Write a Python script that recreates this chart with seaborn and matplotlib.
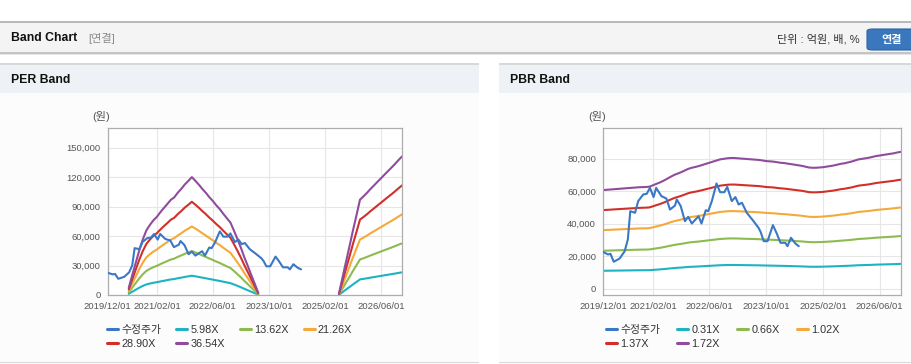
import numpy as np
import pandas as pd
import matplotlib
matplotlib.use("Agg")
import matplotlib.pyplot as plt
from matplotlib.patches import Rectangle, FancyBboxPatch
import seaborn as sns

# --------------------------------------------------
# Data
# --------------------------------------------------

price_dates = [
    "2019-12-01", "2020-01-13", "2020-02-03", "2020-03-02", "2020-04-22",
    "2020-06-04", "2020-07-01", "2020-07-22", "2020-09-01", "2020-09-28",
    "2020-11-10", "2020-12-10", "2021-01-07", "2021-02-07", "2021-03-01",
    "2021-04-15", "2021-05-28", "2021-06-28", "2021-08-10", "2021-08-25",
    "2021-09-28", "2021-11-03", "2021-12-01", "2022-01-01", "2022-02-28",
    "2022-03-25", "2022-05-01", "2022-05-22", "2022-06-22", "2022-08-01",
    "2022-09-01", "2022-10-07", "2022-11-01", "2022-12-10", "2023-01-10",
    "2023-02-07", "2023-03-07", "2023-04-18", "2023-06-15", "2023-07-28",
    "2023-08-15", "2023-09-10", "2023-10-13", "2023-11-28", "2023-12-28",
    "2024-02-01", "2024-03-13", "2024-04-01", "2024-05-01", "2024-06-07",
    "2024-07-07",
]
price = [
    22600, 21000, 21400, 16500, 18500,
    23000, 30200, 47700, 46700, 53900,
    58000, 58400, 62100, 56400, 62100,
    57000, 55500, 48700, 51200, 54900,
    50800, 41500, 44200, 40100, 44600,
    40100, 48300, 47700, 53900, 64800,
    59400, 59400, 62700, 53900, 56400,
    51800, 52900, 46700, 41500, 37400,
    34800, 29200, 29200, 39100, 34400,
    28200, 28200, 26100, 31300, 27800,
    26100,
]

# monthly, 2019/12 .. 2026/12 (None = no band)
eps = (
    [None] * 6
    + [200, 550, 900, 1250, 1550, 1800, 1950, 2080, 2180, 2300,
       2420, 2530, 2650, 2720, 2850, 2960, 3080, 3180, 3284, 3180,
       3070, 2960, 2850, 2730, 2620, 2500, 2390, 2260, 2140, 2020,
       1800, 1560, 1310, 1060, 810, 560, 310, 60]
    + [None] * 22
    + [30, 470, 920, 1360, 1800, 2230, 2655, 2750, 2850, 2950,
       3050, 3150, 3250, 3350, 3450, 3550, 3650, 3760, 3860]
)

bps = [
    35300, 35400, 35500, 35600, 35700, 35800, 35900, 36000, 36100, 36200,
    36300, 36350, 36400, 36500, 37000, 37500, 38000, 38600, 39300, 40000,
    40700, 41200, 41700, 42300, 42900, 43300, 43600, 43900, 44300, 44700,
    45100, 45500, 45900, 46300, 46500, 46700, 46800, 46800, 46700, 46600,
    46500, 46400, 46300, 46200, 46100, 45900, 45700, 45600, 45500, 45300,
    45100, 45000, 44800, 44600, 44400, 44200, 44000, 43700, 43400, 43300,
    43300, 43400, 43500, 43700, 43900, 44100, 44400, 44700, 44900, 45200,
    45500, 45900, 46300, 46500, 46700, 46900, 47200, 47500, 47700, 47900,
    48100, 48300, 48500, 48800, 49000,
]

per_multiples = [5.98, 13.62, 21.26, 28.90, 36.54]
pbr_multiples = [0.31, 0.66, 1.02, 1.37, 1.72]

tick_dates = ["2019-12-01", "2021-02-01", "2022-06-01",
              "2023-10-01", "2025-02-01", "2026-06-01"]
tick_labels = [d.replace("-", "/") for d in tick_dates]

per_ticks = [0, 30000, 60000, 90000, 120000, 150000]
pbr_ticks = [0, 20000, 40000, 60000, 80000]

price_label = "수정주가"
price_color = "#3a78c6"
band_colors = ["#1eb2c2", "#8cbb4f", "#f5a93a", "#d1302a", "#8f4c9d"]

# --------------------------------------------------
# Build long tables
# --------------------------------------------------

months = pd.date_range("2019-12-01", "2026-12-01", freq="MS")


def build_table(base, multiples):
    rows = []
    for d, v in zip(price_dates, price):
        rows.append((pd.Timestamp(d), v, price_label, 0))
    for m in multiples:
        label = f"{m:.2f}X"
        seg = 0
        prev = None
        for d, b in zip(months, base):
            if b is None:
                if prev is not None:
                    seg += 1
                prev = None
                continue
            rows.append((d, b * m, label, seg))
            prev = b
    return pd.DataFrame(rows, columns=["date", "value", "series", "seg"])


per_df = build_table(eps, per_multiples)
pbr_df = build_table(bps, pbr_multiples)

# --------------------------------------------------
# Figure and page chrome
# --------------------------------------------------

sns.set_style("white")
plt.rcParams["font.family"] = ["Liberation Sans", "Noto Sans CJK KR"]

W, H = 912, 364
fig = plt.figure(figsize=(W / 100, H / 100), dpi=100)
fig.patch.set_facecolor("white")


def box(x, y, w, h, **kw):
    fig.add_artist(Rectangle((x / W, 1 - (y + h) / H), w / W, h / H,
                             transform=fig.transFigure, zorder=-10, **kw))


def ftext(x, y, s, **kw):
    fig.text(x / W, 1 - y / H, s, va="center", **kw)


# top bar
box(0, 22, W, 31, facecolor="#f4f4f4", edgecolor="none")
box(0, 21.5, W, 1.2, facecolor="#b9b9b9", edgecolor="none")
box(0, 52, W, 1.5, facecolor="#c4c4c4", edgecolor="none")
box(0, 53.5, W, 1.5, facecolor="#e6e6e6", edgecolor="none")

ftext(11, 38, "Band Chart", fontsize=8.8, fontweight="bold", color="#111")
ftext(88, 38, "[연결]", fontsize=8, color="#8a8a8a")
ftext(860, 39, "단위 : 억원, 배, %", fontsize=8, color="#333", ha="right")

fig.add_artist(FancyBboxPatch((867 / W, 1 - 50 / H), 50 / W, 21 / H,
                              boxstyle="round,pad=0,rounding_size=0.006",
                              transform=fig.transFigure,
                              facecolor="#3b77bd", edgecolor="#2d63a3",
                              linewidth=0.8))
ftext(892, 39.5, "연결", fontsize=8, fontweight="bold", color="white",
      ha="center")

# panels
for x0, x1, title in [(0, 479, "PER Band"), (499, W, "PBR Band")]:
    box(x0, 64, x1 - x0, H - 64, facecolor="#fcfcfc", edgecolor="none")
    box(x0, 64, x1 - x0, 29, facecolor="#eef2f7", edgecolor="none")
    box(x0, 63.5, x1 - x0, 1.2, facecolor="#d8d8d8", edgecolor="none")
    box(x0, 362, x1 - x0, 1.2, facecolor="#d8d8d8", edgecolor="none")
    ftext(x0 + 11, 80, title, fontsize=8.8, fontweight="bold", color="#111")

# --------------------------------------------------
# Charts
# --------------------------------------------------

charts = [
    (per_df, per_multiples, per_ticks, (0, 170000), (107.7, 402), 92, 107, 1.4),
    (pbr_df, pbr_multiples, pbr_ticks, (-4000, 99000), (603, 901), 588, 606, 1.6),
]

for df, mults, yticks, ylim, (ax0, ax1), unit_x, leg_x, colsp in charts:

    ax = fig.add_axes([ax0 / W, (H - 295) / H, (ax1 - ax0) / W, 167 / H])
    ax.set_facecolor("white")

    hue_order = [price_label] + [f"{m:.2f}X" for m in mults]
    palette = dict(zip(hue_order, [price_color] + band_colors))

    sns.lineplot(
        data=df,
        x="date",
        y="value",
        hue="series",
        hue_order=hue_order,
        palette=palette,
        units="seg",
        estimator=None,
        linewidth=1.5,
        ax=ax
    )

    # price on top
    for line in ax.lines:
        if line.get_color() == price_color:
            line.set_zorder(5)

    ax.set_xlim(pd.Timestamp("2019-12-01"), pd.Timestamp("2026-12-01"))
    ax.set_ylim(*ylim)
    ax.set_xticks(pd.to_datetime(tick_dates))
    ax.set_xticklabels(tick_labels)
    ax.set_yticks(yticks)
    ax.set_yticklabels([f"{v:,}" for v in yticks])
    ax.set_xlabel("")
    ax.set_ylabel("")

    ax.grid(True, color="#e6e6e6", linewidth=0.8)
    ax.set_axisbelow(True)
    for s in ax.spines.values():
        s.set_color("#adadad")
        s.set_linewidth(0.9)

    ax.tick_params(axis="both", labelsize=6.8, colors="#555555",
                   length=3, width=0.7, pad=2)
    ax.tick_params(axis="both", color="#adadad")

    ftext(unit_x, 117, "(원)", fontsize=8, color="#555555")

    # legend: row-major order (4 per row)
    old = ax.get_legend()
    handles = list(old.legend_handles)
    labels = [t.get_text() for t in old.get_texts()]
    old.remove()
    order = [0, 4, 1, 5, 2, 3]
    leg = ax.legend(
        [handles[i] for i in order],
        [labels[i] for i in order],
        loc="upper left",
        bbox_to_anchor=(leg_x / W, 1 - 325 / H),
        bbox_transform=fig.transFigure,
        ncol=4,
        frameon=False,
        fontsize=7.8,
        handlelength=1.0,
        handletextpad=0.3,
        columnspacing=colsp,
        labelspacing=0.35,
        borderaxespad=0,
        borderpad=0
    )
    for t in leg.get_texts():
        t.set_color("#333333")
    for h in leg.legend_handles:
        h.set_linewidth(2.2)

fig.savefig("out.png", dpi=100)
